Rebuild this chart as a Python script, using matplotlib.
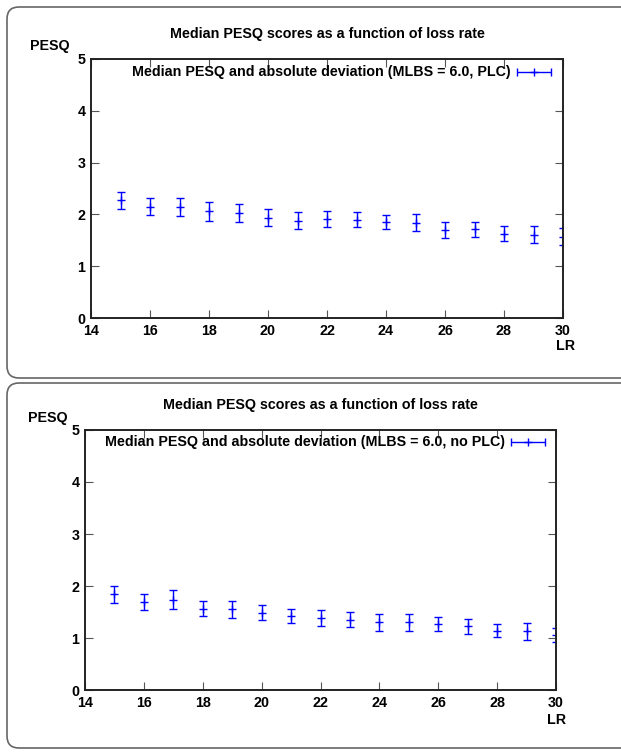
import matplotlib.pyplot as plt
from matplotlib.patches import FancyBboxPatch

plt.rcParams['font.family'] = ['Liberation Sans', 'DejaVu Sans']
plt.rcParams['font.weight'] = 'bold'

# loss rate (x) shared by both panels
loss_rate = [15, 16, 17, 18, 19, 20, 21, 22, 23, 24, 25, 26, 27, 28, 29, 30]

# MLBS = 6.0, with PLC
plc_median = [2.27, 2.15, 2.14, 2.06, 2.03, 1.94, 1.88, 1.92, 1.90, 1.85, 1.84, 1.70, 1.71, 1.63, 1.61, 1.57]
plc_dev = [0.17, 0.16, 0.17, 0.18, 0.18, 0.16, 0.17, 0.155, 0.15, 0.14, 0.16, 0.155, 0.15, 0.15, 0.16, 0.165]

# MLBS = 6.0, no PLC
noplc_median = [1.84, 1.69, 1.74, 1.56, 1.55, 1.49, 1.42, 1.39, 1.35, 1.30, 1.30, 1.27, 1.23, 1.14, 1.13, 1.06]
noplc_dev = [0.165, 0.155, 0.185, 0.145, 0.165, 0.15, 0.14, 0.15, 0.145, 0.16, 0.16, 0.14, 0.145, 0.12, 0.16, 0.135]

titles = ["Median PESQ scores as a function of loss rate"] * 2
labels = ["Median PESQ and absolute deviation (MLBS = 6.0, PLC)",
          "Median PESQ and absolute deviation (MLBS = 6.0, no PLC)"]
xticks = [14, 16, 18, 20, 22, 24, 26, 28, 30]
yticks = [0, 1, 2, 3, 4, 5]

W, H = 621, 752
fig = plt.figure(figsize=(W / 100, H / 100), dpi=100)

# rounded frames around each panel (in inches)
for (y0, y1) in [(7, 378), (383, 748)]:
    box = FancyBboxPatch((0.07, (H - y1) / 100), 6.5, (y1 - y0) / 100,
                         boxstyle="round,pad=0,rounding_size=0.12",
                         transform=fig.dpi_scale_trans, facecolor='none',
                         edgecolor='#666666', lw=1.2)
    fig.patches.append(box)

# axes pixel boxes: left, right, top, bottom
panels = [
    dict(l=91, r=563, t=59, b=318, med=plc_median, dev=plc_dev, lab=labels[0],
         txt_x=0.888, leg_x=0.9386, leg_y=0.95, pesq=(-0.087, 1.05), lr=(1.006, -0.108)),
    dict(l=85, r=556, t=430, b=690, med=noplc_median, dev=noplc_dev, lab=labels[1],
         txt_x=0.892, leg_x=0.9406, leg_y=0.954, pesq=(-0.0786, 1.046), lr=(1.002, -0.115)),
]

fs = 10.3
for i, p in enumerate(panels):
    ax = fig.add_axes([p['l'] / W, 1 - p['b'] / H, (p['r'] - p['l']) / W, (p['b'] - p['t']) / H])
    ax.errorbar(loss_rate, p['med'], yerr=p['dev'], fmt='+', color='#0000ff',
                ms=6, mew=1.0, elinewidth=1.0, capsize=3, capthick=1.0)
    ax.set_xlim(14, 30)
    ax.set_ylim(0, 5)
    ax.set_xticks(xticks)
    ax.set_yticks(yticks)
    ax.tick_params(direction='in', length=6, width=0.8, top=True, right=True,
                   labelsize=fs, pad=4, color='#555555')
    for lbl in ax.get_xticklabels() + ax.get_yticklabels():
        lbl.set_fontweight('bold')
    for s in ax.spines.values():
        s.set_linewidth(1.4)
        s.set_color('#222222')

    ax.text(0.5, 1 + 25 / 260, titles[i], transform=ax.transAxes, ha='center',
            va='center', fontsize=fs, fontweight='bold')
    ax.text(p['pesq'][0], p['pesq'][1], "PESQ", transform=ax.transAxes, ha='center',
            va='center', fontsize=fs, fontweight='bold')
    ax.text(p['lr'][0], p['lr'][1], "LR", transform=ax.transAxes, ha='center',
            va='center', fontsize=fs, fontweight='bold')

    # key
    ax.text(p['txt_x'], p['leg_y'], p['lab'], transform=ax.transAxes, ha='right',
            va='center', fontsize=fs, fontweight='bold')
    ax.errorbar([p['leg_x']], [p['leg_y']], xerr=[0.036], transform=ax.transAxes,
                fmt='+', color='#0000ff', ms=6, mew=1.0, elinewidth=1.0,
                capsize=3, capthick=1.0, clip_on=False)

fig.savefig('out.png', dpi=100)
